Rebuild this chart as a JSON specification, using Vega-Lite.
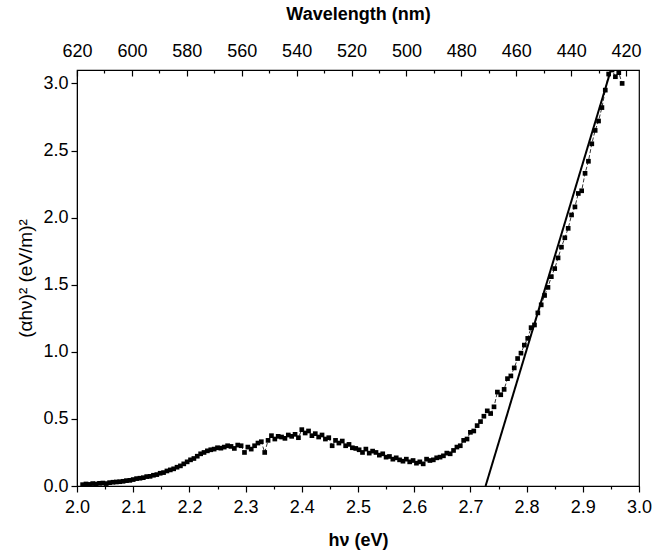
{
  "$schema": "https://vega.github.io/schema/vega-lite/v6.json",
  "width": 562,
  "height": 416,
  "autosize": "none",
  "padding": {"left": 77, "top": 70, "right": 13, "bottom": 69},
  "background": "white",
  "config": {
    "view": {"stroke": "black", "strokeWidth": 1.2},
    "font": "Liberation Sans",
    "axis": {
      "grid": false,
      "labelFlush": false,
      "labelOverlap": false,
      "domainColor": "black",
      "tickColor": "black",
      "tickWidth": 1.2,
      "labelColor": "black",
      "titleColor": "black",
      "labelFont": "Liberation Sans",
      "titleFont": "Liberation Sans",
      "labelFontSize": 18,
      "titleFontSize": 18,
      "titleFontWeight": "normal"
    }
  },
  "datasets": {
    "abs": [
      {"e": 2.010, "v": 0.010}, {"e": 2.016, "v": 0.015}, {"e": 2.022, "v": 0.012}, {"e": 2.028, "v": 0.018},
      {"e": 2.034, "v": 0.015}, {"e": 2.040, "v": 0.020}, {"e": 2.046, "v": 0.022}, {"e": 2.052, "v": 0.018},
      {"e": 2.058, "v": 0.025}, {"e": 2.064, "v": 0.028}, {"e": 2.070, "v": 0.030}, {"e": 2.076, "v": 0.032},
      {"e": 2.082, "v": 0.035}, {"e": 2.088, "v": 0.040}, {"e": 2.094, "v": 0.042}, {"e": 2.100, "v": 0.048},
      {"e": 2.106, "v": 0.055}, {"e": 2.112, "v": 0.058}, {"e": 2.118, "v": 0.062}, {"e": 2.124, "v": 0.070},
      {"e": 2.130, "v": 0.072}, {"e": 2.136, "v": 0.080}, {"e": 2.142, "v": 0.085}, {"e": 2.148, "v": 0.095},
      {"e": 2.154, "v": 0.100}, {"e": 2.160, "v": 0.112}, {"e": 2.166, "v": 0.120}, {"e": 2.172, "v": 0.128},
      {"e": 2.178, "v": 0.140}, {"e": 2.184, "v": 0.150}, {"e": 2.190, "v": 0.165}, {"e": 2.196, "v": 0.180},
      {"e": 2.202, "v": 0.195}, {"e": 2.208, "v": 0.205}, {"e": 2.214, "v": 0.222}, {"e": 2.220, "v": 0.240},
      {"e": 2.226, "v": 0.250}, {"e": 2.232, "v": 0.262}, {"e": 2.238, "v": 0.270}, {"e": 2.244, "v": 0.275},
      {"e": 2.250, "v": 0.285}, {"e": 2.256, "v": 0.282}, {"e": 2.262, "v": 0.290}, {"e": 2.268, "v": 0.300},
      {"e": 2.274, "v": 0.295}, {"e": 2.280, "v": 0.280}, {"e": 2.286, "v": 0.305}, {"e": 2.292, "v": 0.300},
      {"e": 2.298, "v": 0.250}, {"e": 2.304, "v": 0.290}, {"e": 2.310, "v": 0.275}, {"e": 2.316, "v": 0.300},
      {"e": 2.322, "v": 0.320}, {"e": 2.328, "v": 0.330}, {"e": 2.334, "v": 0.250}, {"e": 2.340, "v": 0.340},
      {"e": 2.346, "v": 0.375}, {"e": 2.352, "v": 0.350}, {"e": 2.358, "v": 0.370}, {"e": 2.364, "v": 0.365},
      {"e": 2.370, "v": 0.355}, {"e": 2.376, "v": 0.380}, {"e": 2.382, "v": 0.370}, {"e": 2.388, "v": 0.385},
      {"e": 2.394, "v": 0.360}, {"e": 2.400, "v": 0.420}, {"e": 2.406, "v": 0.395}, {"e": 2.412, "v": 0.410},
      {"e": 2.418, "v": 0.375}, {"e": 2.424, "v": 0.390}, {"e": 2.430, "v": 0.365}, {"e": 2.436, "v": 0.380},
      {"e": 2.442, "v": 0.350}, {"e": 2.448, "v": 0.360}, {"e": 2.454, "v": 0.300}, {"e": 2.460, "v": 0.340},
      {"e": 2.466, "v": 0.320}, {"e": 2.472, "v": 0.335}, {"e": 2.478, "v": 0.300}, {"e": 2.484, "v": 0.310},
      {"e": 2.490, "v": 0.285}, {"e": 2.496, "v": 0.280}, {"e": 2.502, "v": 0.270}, {"e": 2.508, "v": 0.250},
      {"e": 2.514, "v": 0.275}, {"e": 2.520, "v": 0.245}, {"e": 2.526, "v": 0.260}, {"e": 2.532, "v": 0.250},
      {"e": 2.538, "v": 0.230}, {"e": 2.544, "v": 0.240}, {"e": 2.550, "v": 0.215}, {"e": 2.556, "v": 0.220},
      {"e": 2.562, "v": 0.200}, {"e": 2.568, "v": 0.210}, {"e": 2.574, "v": 0.195}, {"e": 2.580, "v": 0.185},
      {"e": 2.586, "v": 0.200}, {"e": 2.592, "v": 0.180}, {"e": 2.598, "v": 0.190}, {"e": 2.604, "v": 0.170},
      {"e": 2.610, "v": 0.180}, {"e": 2.616, "v": 0.165}, {"e": 2.622, "v": 0.200}, {"e": 2.628, "v": 0.190},
      {"e": 2.634, "v": 0.195}, {"e": 2.640, "v": 0.210}, {"e": 2.646, "v": 0.215}, {"e": 2.652, "v": 0.225},
      {"e": 2.658, "v": 0.245}, {"e": 2.664, "v": 0.240}, {"e": 2.670, "v": 0.265}, {"e": 2.676, "v": 0.290},
      {"e": 2.682, "v": 0.300}, {"e": 2.688, "v": 0.340}, {"e": 2.694, "v": 0.350}, {"e": 2.700, "v": 0.400},
      {"e": 2.706, "v": 0.410}, {"e": 2.712, "v": 0.450}, {"e": 2.718, "v": 0.480}, {"e": 2.724, "v": 0.520},
      {"e": 2.730, "v": 0.560}, {"e": 2.736, "v": 0.540}, {"e": 2.742, "v": 0.590}, {"e": 2.748, "v": 0.700},
      {"e": 2.754, "v": 0.680}, {"e": 2.760, "v": 0.720}, {"e": 2.766, "v": 0.800}, {"e": 2.772, "v": 0.820},
      {"e": 2.778, "v": 0.880}, {"e": 2.784, "v": 0.950}, {"e": 2.790, "v": 0.990}, {"e": 2.796, "v": 1.050},
      {"e": 2.802, "v": 1.100}, {"e": 2.808, "v": 1.180}, {"e": 2.814, "v": 1.200}, {"e": 2.820, "v": 1.290},
      {"e": 2.826, "v": 1.350}, {"e": 2.832, "v": 1.420}, {"e": 2.838, "v": 1.480}, {"e": 2.844, "v": 1.560},
      {"e": 2.850, "v": 1.620}, {"e": 2.856, "v": 1.700}, {"e": 2.862, "v": 1.780}, {"e": 2.868, "v": 1.850},
      {"e": 2.874, "v": 1.920}, {"e": 2.880, "v": 2.020}, {"e": 2.886, "v": 2.080}, {"e": 2.892, "v": 2.180},
      {"e": 2.898, "v": 2.200}, {"e": 2.904, "v": 2.330}, {"e": 2.910, "v": 2.420}, {"e": 2.916, "v": 2.550},
      {"e": 2.922, "v": 2.650}, {"e": 2.928, "v": 2.720}, {"e": 2.934, "v": 2.820}, {"e": 2.940, "v": 2.950},
      {"e": 2.946, "v": 3.070}, {"e": 2.952, "v": 3.100}, {"e": 2.958, "v": 3.050}, {"e": 2.964, "v": 3.080},
      {"e": 2.970, "v": 3.000}
    ],
    "tangent": [{"e": 2.727, "v": 0}, {"e": 2.95, "v": 3.1}],
    "wl": [{"w": 620, "v": 0}, {"w": 415.3, "v": 0}]
  },
  "layer": [
    {
      "data": {"name": "abs"},
      "layer": [
        {
          "mark": {"type": "line", "color": "black", "strokeWidth": 0.8, "strokeDash": [4, 2], "clip": true},
          "encoding": {}
        },
        {
          "mark": {"type": "point", "shape": "square", "filled": true, "color": "black", "size": 22, "opacity": 1, "clip": true},
          "encoding": {}
        },
        {
          "data": {"name": "tangent"},
          "mark": {"type": "line", "color": "black", "strokeWidth": 2, "clip": true},
          "encoding": {}
        }
      ],
      "encoding": {
        "x": {
          "field": "e", "type": "quantitative",
          "scale": {"domain": [2.0, 3.0], "nice": false, "zero": false},
          "axis": {
            "orient": "bottom",
            "title": "hν (eV)",
            "values": [2.0, 2.05, 2.1, 2.15, 2.2, 2.25, 2.3, 2.35, 2.4, 2.45, 2.5, 2.55, 2.6, 2.65, 2.7, 2.75, 2.8, 2.85, 2.9, 2.95, 3.0],
            "labelExpr": "abs(datum.value*10 - round(datum.value*10)) < 0.01 ? format(datum.value, '.1f') : ''",
            "tickSize": {"condition": {"test": "abs(datum.value*10 - round(datum.value*10)) < 0.01", "value": 6}, "value": 3},
            "labelPadding": 6,
            "titlePadding": 15,
            "titleFontWeight": "bold",
            "domain": true
          }
        },
        "y": {
          "field": "v", "type": "quantitative",
          "scale": {"domain": [0, 3.1], "nice": false},
          "axis": {
            "title": "(αhν)²  (eV/m)²",
            "titleFontSize": 19,
            "values": [0, 0.25, 0.5, 0.75, 1.0, 1.25, 1.5, 1.75, 2.0, 2.25, 2.5, 2.75, 3.0],
            "labelExpr": "abs(datum.value*2 - round(datum.value*2)) < 0.01 ? format(datum.value, '.1f') : ''",
            "tickSize": {"condition": {"test": "abs(datum.value*2 - round(datum.value*2)) < 0.01", "value": 6}, "value": 3},
            "labelPadding": 3,
            "titlePadding": 7
          }
        }
      }
    },
    {
      "data": {"name": "wl"},
      "mark": {"type": "point", "opacity": 0},
      "encoding": {
        "x": {
          "field": "w", "type": "quantitative",
          "scale": {"domain": [415.3, 620], "reverse": true, "nice": false, "zero": false},
          "axis": {
            "orient": "top",
            "title": "Wavelength (nm)",
            "values": [620, 610, 600, 590, 580, 570, 560, 550, 540, 530, 520, 510, 500, 490, 480, 470, 460, 450, 440, 430, 420],
            "labelExpr": "datum.value % 20 == 0 ? format(datum.value, 'd') : ''",
            "tickSize": {"condition": {"test": "datum.value % 20 == 0", "value": -6}, "value": -3},
            "labelPadding": 16,
            "titlePadding": 16,
            "titleFontWeight": "bold"
          }
        },
        "y": {"field": "v", "type": "quantitative"}
      }
    }
  ],
  "resolve": {"scale": {"x": "independent"}, "axis": {"x": "independent"}}
}
